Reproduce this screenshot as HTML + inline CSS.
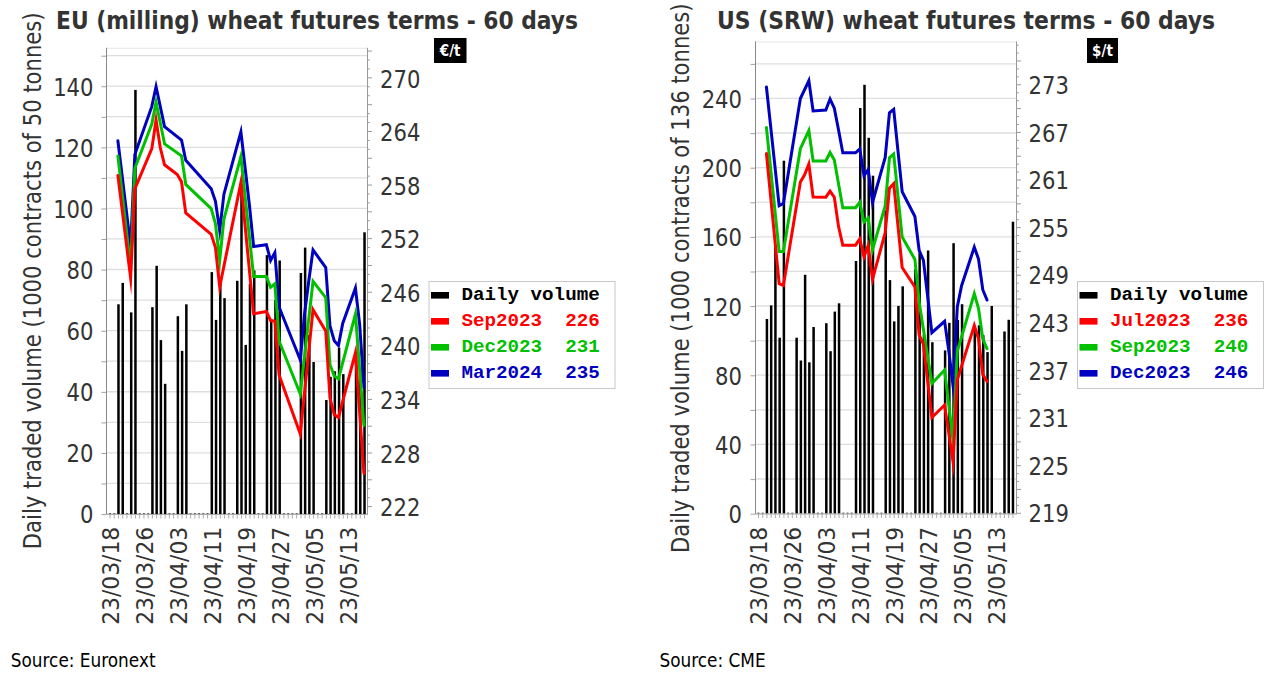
<!DOCTYPE html>
<html><head><meta charset="utf-8"><title>Wheat futures</title>
<style>html,body{margin:0;padding:0;background:#fff;} svg{display:block}</style></head>
<body><svg width="1271" height="673" viewBox="0 0 1271 673" font-family="'DejaVu Sans Condensed','DejaVu Sans','Liberation Sans',sans-serif">
<rect width="1271" height="673" fill="#fff"/>
<line x1="106" y1="48.3" x2="367" y2="48.3" stroke="#e6e6e6" stroke-width="1"/>
<line x1="107" y1="514.00" x2="367" y2="514.00" stroke="#dedede" stroke-width="1.3"/>
<line x1="107" y1="483.44" x2="367" y2="483.44" stroke="#dedede" stroke-width="1.3"/>
<line x1="107" y1="452.88" x2="367" y2="452.88" stroke="#dedede" stroke-width="1.3"/>
<line x1="107" y1="422.32" x2="367" y2="422.32" stroke="#dedede" stroke-width="1.3"/>
<line x1="107" y1="391.76" x2="367" y2="391.76" stroke="#dedede" stroke-width="1.3"/>
<line x1="107" y1="361.20" x2="367" y2="361.20" stroke="#dedede" stroke-width="1.3"/>
<line x1="107" y1="330.64" x2="367" y2="330.64" stroke="#dedede" stroke-width="1.3"/>
<line x1="107" y1="300.08" x2="367" y2="300.08" stroke="#dedede" stroke-width="1.3"/>
<line x1="107" y1="269.52" x2="367" y2="269.52" stroke="#dedede" stroke-width="1.3"/>
<line x1="107" y1="238.96" x2="367" y2="238.96" stroke="#dedede" stroke-width="1.3"/>
<line x1="107" y1="208.40" x2="367" y2="208.40" stroke="#dedede" stroke-width="1.3"/>
<line x1="107" y1="177.84" x2="367" y2="177.84" stroke="#dedede" stroke-width="1.3"/>
<line x1="107" y1="147.28" x2="367" y2="147.28" stroke="#dedede" stroke-width="1.3"/>
<line x1="107" y1="116.72" x2="367" y2="116.72" stroke="#dedede" stroke-width="1.3"/>
<line x1="107" y1="86.16" x2="367" y2="86.16" stroke="#dedede" stroke-width="1.3"/>
<line x1="107" y1="55.60" x2="367" y2="55.60" stroke="#dedede" stroke-width="1.3"/>
<line x1="101.5" y1="514.60" x2="106" y2="514.60" stroke="#a0a0a0" stroke-width="1"/>
<line x1="101.5" y1="484.04" x2="106" y2="484.04" stroke="#a0a0a0" stroke-width="1"/>
<line x1="101.5" y1="453.48" x2="106" y2="453.48" stroke="#a0a0a0" stroke-width="1"/>
<line x1="101.5" y1="422.92" x2="106" y2="422.92" stroke="#a0a0a0" stroke-width="1"/>
<line x1="101.5" y1="392.36" x2="106" y2="392.36" stroke="#a0a0a0" stroke-width="1"/>
<line x1="101.5" y1="361.80" x2="106" y2="361.80" stroke="#a0a0a0" stroke-width="1"/>
<line x1="101.5" y1="331.24" x2="106" y2="331.24" stroke="#a0a0a0" stroke-width="1"/>
<line x1="101.5" y1="300.68" x2="106" y2="300.68" stroke="#a0a0a0" stroke-width="1"/>
<line x1="101.5" y1="270.12" x2="106" y2="270.12" stroke="#a0a0a0" stroke-width="1"/>
<line x1="101.5" y1="239.56" x2="106" y2="239.56" stroke="#a0a0a0" stroke-width="1"/>
<line x1="101.5" y1="209.00" x2="106" y2="209.00" stroke="#a0a0a0" stroke-width="1"/>
<line x1="101.5" y1="178.44" x2="106" y2="178.44" stroke="#a0a0a0" stroke-width="1"/>
<line x1="101.5" y1="147.88" x2="106" y2="147.88" stroke="#a0a0a0" stroke-width="1"/>
<line x1="101.5" y1="117.32" x2="106" y2="117.32" stroke="#a0a0a0" stroke-width="1"/>
<line x1="101.5" y1="86.76" x2="106" y2="86.76" stroke="#a0a0a0" stroke-width="1"/>
<line x1="101.5" y1="56.20" x2="106" y2="56.20" stroke="#a0a0a0" stroke-width="1"/>
<line x1="110.00" y1="514" x2="110.00" y2="518.5" stroke="#999" stroke-width="0.8"/>
<line x1="114.24" y1="514" x2="114.24" y2="518.5" stroke="#999" stroke-width="0.8"/>
<line x1="118.48" y1="514" x2="118.48" y2="518.5" stroke="#999" stroke-width="0.8"/>
<line x1="122.73" y1="514" x2="122.73" y2="518.5" stroke="#999" stroke-width="0.8"/>
<line x1="126.97" y1="514" x2="126.97" y2="518.5" stroke="#999" stroke-width="0.8"/>
<line x1="131.21" y1="514" x2="131.21" y2="518.5" stroke="#999" stroke-width="0.8"/>
<line x1="135.45" y1="514" x2="135.45" y2="518.5" stroke="#999" stroke-width="0.8"/>
<line x1="139.69" y1="514" x2="139.69" y2="518.5" stroke="#999" stroke-width="0.8"/>
<line x1="143.94" y1="514" x2="143.94" y2="518.5" stroke="#999" stroke-width="0.8"/>
<line x1="148.18" y1="514" x2="148.18" y2="518.5" stroke="#999" stroke-width="0.8"/>
<line x1="152.42" y1="514" x2="152.42" y2="518.5" stroke="#999" stroke-width="0.8"/>
<line x1="156.66" y1="514" x2="156.66" y2="518.5" stroke="#999" stroke-width="0.8"/>
<line x1="160.90" y1="514" x2="160.90" y2="518.5" stroke="#999" stroke-width="0.8"/>
<line x1="165.15" y1="514" x2="165.15" y2="518.5" stroke="#999" stroke-width="0.8"/>
<line x1="169.39" y1="514" x2="169.39" y2="518.5" stroke="#999" stroke-width="0.8"/>
<line x1="173.63" y1="514" x2="173.63" y2="518.5" stroke="#999" stroke-width="0.8"/>
<line x1="177.87" y1="514" x2="177.87" y2="518.5" stroke="#999" stroke-width="0.8"/>
<line x1="182.11" y1="514" x2="182.11" y2="518.5" stroke="#999" stroke-width="0.8"/>
<line x1="186.36" y1="514" x2="186.36" y2="518.5" stroke="#999" stroke-width="0.8"/>
<line x1="190.60" y1="514" x2="190.60" y2="518.5" stroke="#999" stroke-width="0.8"/>
<line x1="194.84" y1="514" x2="194.84" y2="518.5" stroke="#999" stroke-width="0.8"/>
<line x1="199.08" y1="514" x2="199.08" y2="518.5" stroke="#999" stroke-width="0.8"/>
<line x1="203.32" y1="514" x2="203.32" y2="518.5" stroke="#999" stroke-width="0.8"/>
<line x1="207.57" y1="514" x2="207.57" y2="518.5" stroke="#999" stroke-width="0.8"/>
<line x1="211.81" y1="514" x2="211.81" y2="518.5" stroke="#999" stroke-width="0.8"/>
<line x1="216.05" y1="514" x2="216.05" y2="518.5" stroke="#999" stroke-width="0.8"/>
<line x1="220.29" y1="514" x2="220.29" y2="518.5" stroke="#999" stroke-width="0.8"/>
<line x1="224.53" y1="514" x2="224.53" y2="518.5" stroke="#999" stroke-width="0.8"/>
<line x1="228.78" y1="514" x2="228.78" y2="518.5" stroke="#999" stroke-width="0.8"/>
<line x1="233.02" y1="514" x2="233.02" y2="518.5" stroke="#999" stroke-width="0.8"/>
<line x1="237.26" y1="514" x2="237.26" y2="518.5" stroke="#999" stroke-width="0.8"/>
<line x1="241.50" y1="514" x2="241.50" y2="518.5" stroke="#999" stroke-width="0.8"/>
<line x1="245.74" y1="514" x2="245.74" y2="518.5" stroke="#999" stroke-width="0.8"/>
<line x1="249.99" y1="514" x2="249.99" y2="518.5" stroke="#999" stroke-width="0.8"/>
<line x1="254.23" y1="514" x2="254.23" y2="518.5" stroke="#999" stroke-width="0.8"/>
<line x1="258.47" y1="514" x2="258.47" y2="518.5" stroke="#999" stroke-width="0.8"/>
<line x1="262.71" y1="514" x2="262.71" y2="518.5" stroke="#999" stroke-width="0.8"/>
<line x1="266.95" y1="514" x2="266.95" y2="518.5" stroke="#999" stroke-width="0.8"/>
<line x1="271.20" y1="514" x2="271.20" y2="518.5" stroke="#999" stroke-width="0.8"/>
<line x1="275.44" y1="514" x2="275.44" y2="518.5" stroke="#999" stroke-width="0.8"/>
<line x1="279.68" y1="514" x2="279.68" y2="518.5" stroke="#999" stroke-width="0.8"/>
<line x1="283.92" y1="514" x2="283.92" y2="518.5" stroke="#999" stroke-width="0.8"/>
<line x1="288.16" y1="514" x2="288.16" y2="518.5" stroke="#999" stroke-width="0.8"/>
<line x1="292.41" y1="514" x2="292.41" y2="518.5" stroke="#999" stroke-width="0.8"/>
<line x1="296.65" y1="514" x2="296.65" y2="518.5" stroke="#999" stroke-width="0.8"/>
<line x1="300.89" y1="514" x2="300.89" y2="518.5" stroke="#999" stroke-width="0.8"/>
<line x1="305.13" y1="514" x2="305.13" y2="518.5" stroke="#999" stroke-width="0.8"/>
<line x1="309.37" y1="514" x2="309.37" y2="518.5" stroke="#999" stroke-width="0.8"/>
<line x1="313.62" y1="514" x2="313.62" y2="518.5" stroke="#999" stroke-width="0.8"/>
<line x1="317.86" y1="514" x2="317.86" y2="518.5" stroke="#999" stroke-width="0.8"/>
<line x1="322.10" y1="514" x2="322.10" y2="518.5" stroke="#999" stroke-width="0.8"/>
<line x1="326.34" y1="514" x2="326.34" y2="518.5" stroke="#999" stroke-width="0.8"/>
<line x1="330.58" y1="514" x2="330.58" y2="518.5" stroke="#999" stroke-width="0.8"/>
<line x1="334.83" y1="514" x2="334.83" y2="518.5" stroke="#999" stroke-width="0.8"/>
<line x1="339.07" y1="514" x2="339.07" y2="518.5" stroke="#999" stroke-width="0.8"/>
<line x1="343.31" y1="514" x2="343.31" y2="518.5" stroke="#999" stroke-width="0.8"/>
<line x1="347.55" y1="514" x2="347.55" y2="518.5" stroke="#999" stroke-width="0.8"/>
<line x1="351.79" y1="514" x2="351.79" y2="518.5" stroke="#999" stroke-width="0.8"/>
<line x1="356.04" y1="514" x2="356.04" y2="518.5" stroke="#999" stroke-width="0.8"/>
<line x1="360.28" y1="514" x2="360.28" y2="518.5" stroke="#999" stroke-width="0.8"/>
<line x1="364.52" y1="514" x2="364.52" y2="518.5" stroke="#999" stroke-width="0.8"/>
<line x1="367" y1="506.60" x2="372" y2="506.60" stroke="#999" stroke-width="1"/>
<line x1="367" y1="497.67" x2="369.8" y2="497.67" stroke="#999" stroke-width="1"/>
<line x1="367" y1="488.74" x2="369.8" y2="488.74" stroke="#999" stroke-width="1"/>
<line x1="367" y1="479.80" x2="372" y2="479.80" stroke="#999" stroke-width="1"/>
<line x1="367" y1="470.87" x2="369.8" y2="470.87" stroke="#999" stroke-width="1"/>
<line x1="367" y1="461.94" x2="369.8" y2="461.94" stroke="#999" stroke-width="1"/>
<line x1="367" y1="453.01" x2="372" y2="453.01" stroke="#999" stroke-width="1"/>
<line x1="367" y1="444.08" x2="369.8" y2="444.08" stroke="#999" stroke-width="1"/>
<line x1="367" y1="435.14" x2="369.8" y2="435.14" stroke="#999" stroke-width="1"/>
<line x1="367" y1="426.21" x2="372" y2="426.21" stroke="#999" stroke-width="1"/>
<line x1="367" y1="417.28" x2="369.8" y2="417.28" stroke="#999" stroke-width="1"/>
<line x1="367" y1="408.35" x2="369.8" y2="408.35" stroke="#999" stroke-width="1"/>
<line x1="367" y1="399.42" x2="372" y2="399.42" stroke="#999" stroke-width="1"/>
<line x1="367" y1="390.48" x2="369.8" y2="390.48" stroke="#999" stroke-width="1"/>
<line x1="367" y1="381.55" x2="369.8" y2="381.55" stroke="#999" stroke-width="1"/>
<line x1="367" y1="372.62" x2="372" y2="372.62" stroke="#999" stroke-width="1"/>
<line x1="367" y1="363.69" x2="369.8" y2="363.69" stroke="#999" stroke-width="1"/>
<line x1="367" y1="354.76" x2="369.8" y2="354.76" stroke="#999" stroke-width="1"/>
<line x1="367" y1="345.82" x2="372" y2="345.82" stroke="#999" stroke-width="1"/>
<line x1="367" y1="336.89" x2="369.8" y2="336.89" stroke="#999" stroke-width="1"/>
<line x1="367" y1="327.96" x2="369.8" y2="327.96" stroke="#999" stroke-width="1"/>
<line x1="367" y1="319.03" x2="372" y2="319.03" stroke="#999" stroke-width="1"/>
<line x1="367" y1="310.10" x2="369.8" y2="310.10" stroke="#999" stroke-width="1"/>
<line x1="367" y1="301.16" x2="369.8" y2="301.16" stroke="#999" stroke-width="1"/>
<line x1="367" y1="292.23" x2="372" y2="292.23" stroke="#999" stroke-width="1"/>
<line x1="367" y1="283.30" x2="369.8" y2="283.30" stroke="#999" stroke-width="1"/>
<line x1="367" y1="274.37" x2="369.8" y2="274.37" stroke="#999" stroke-width="1"/>
<line x1="367" y1="265.44" x2="372" y2="265.44" stroke="#999" stroke-width="1"/>
<line x1="367" y1="256.50" x2="369.8" y2="256.50" stroke="#999" stroke-width="1"/>
<line x1="367" y1="247.57" x2="369.8" y2="247.57" stroke="#999" stroke-width="1"/>
<line x1="367" y1="238.64" x2="372" y2="238.64" stroke="#999" stroke-width="1"/>
<line x1="367" y1="229.71" x2="369.8" y2="229.71" stroke="#999" stroke-width="1"/>
<line x1="367" y1="220.78" x2="369.8" y2="220.78" stroke="#999" stroke-width="1"/>
<line x1="367" y1="211.84" x2="372" y2="211.84" stroke="#999" stroke-width="1"/>
<line x1="367" y1="202.91" x2="369.8" y2="202.91" stroke="#999" stroke-width="1"/>
<line x1="367" y1="193.98" x2="369.8" y2="193.98" stroke="#999" stroke-width="1"/>
<line x1="367" y1="185.05" x2="372" y2="185.05" stroke="#999" stroke-width="1"/>
<line x1="367" y1="176.12" x2="369.8" y2="176.12" stroke="#999" stroke-width="1"/>
<line x1="367" y1="167.18" x2="369.8" y2="167.18" stroke="#999" stroke-width="1"/>
<line x1="367" y1="158.25" x2="372" y2="158.25" stroke="#999" stroke-width="1"/>
<line x1="367" y1="149.32" x2="369.8" y2="149.32" stroke="#999" stroke-width="1"/>
<line x1="367" y1="140.39" x2="369.8" y2="140.39" stroke="#999" stroke-width="1"/>
<line x1="367" y1="131.46" x2="372" y2="131.46" stroke="#999" stroke-width="1"/>
<line x1="367" y1="122.52" x2="369.8" y2="122.52" stroke="#999" stroke-width="1"/>
<line x1="367" y1="113.59" x2="369.8" y2="113.59" stroke="#999" stroke-width="1"/>
<line x1="367" y1="104.66" x2="372" y2="104.66" stroke="#999" stroke-width="1"/>
<line x1="367" y1="95.73" x2="369.8" y2="95.73" stroke="#999" stroke-width="1"/>
<line x1="367" y1="86.80" x2="369.8" y2="86.80" stroke="#999" stroke-width="1"/>
<line x1="367" y1="77.86" x2="372" y2="77.86" stroke="#999" stroke-width="1"/>
<line x1="367" y1="68.93" x2="369.8" y2="68.93" stroke="#999" stroke-width="1"/>
<line x1="367" y1="60.00" x2="369.8" y2="60.00" stroke="#999" stroke-width="1"/>
<line x1="367" y1="51.07" x2="372" y2="51.07" stroke="#999" stroke-width="1"/>
<rect x="109.00" y="513.1" width="2.0" height="1.1" fill="#555"/>
<rect x="113.24" y="513.1" width="2.0" height="1.1" fill="#555"/>
<rect x="125.97" y="513.1" width="2.0" height="1.1" fill="#555"/>
<rect x="138.69" y="513.1" width="2.0" height="1.1" fill="#555"/>
<rect x="142.94" y="513.1" width="2.0" height="1.1" fill="#555"/>
<rect x="147.18" y="513.1" width="2.0" height="1.1" fill="#555"/>
<rect x="168.39" y="513.1" width="2.0" height="1.1" fill="#555"/>
<rect x="172.63" y="513.1" width="2.0" height="1.1" fill="#555"/>
<rect x="189.60" y="513.1" width="2.0" height="1.1" fill="#555"/>
<rect x="193.84" y="513.1" width="2.0" height="1.1" fill="#555"/>
<rect x="198.08" y="513.1" width="2.0" height="1.1" fill="#555"/>
<rect x="202.32" y="513.1" width="2.0" height="1.1" fill="#555"/>
<rect x="206.57" y="513.1" width="2.0" height="1.1" fill="#555"/>
<rect x="227.78" y="513.1" width="2.0" height="1.1" fill="#555"/>
<rect x="232.02" y="513.1" width="2.0" height="1.1" fill="#555"/>
<rect x="257.47" y="513.1" width="2.0" height="1.1" fill="#555"/>
<rect x="261.71" y="513.1" width="2.0" height="1.1" fill="#555"/>
<rect x="282.92" y="513.1" width="2.0" height="1.1" fill="#555"/>
<rect x="287.16" y="513.1" width="2.0" height="1.1" fill="#555"/>
<rect x="291.41" y="513.1" width="2.0" height="1.1" fill="#555"/>
<rect x="295.65" y="513.1" width="2.0" height="1.1" fill="#555"/>
<rect x="316.86" y="513.1" width="2.0" height="1.1" fill="#555"/>
<rect x="321.10" y="513.1" width="2.0" height="1.1" fill="#555"/>
<rect x="346.55" y="513.1" width="2.0" height="1.1" fill="#555"/>
<rect x="350.79" y="513.1" width="2.0" height="1.1" fill="#555"/>
<rect x="117.23" y="304.3" width="2.5" height="209.7" fill="#000"/>
<rect x="121.48" y="282.9" width="2.5" height="231.1" fill="#000"/>
<rect x="129.96" y="312.4" width="2.5" height="201.6" fill="#000"/>
<rect x="134.20" y="89.9" width="2.5" height="424.1" fill="#000"/>
<rect x="151.17" y="307.2" width="2.5" height="206.8" fill="#000"/>
<rect x="155.41" y="265.8" width="2.5" height="248.2" fill="#000"/>
<rect x="159.65" y="340.1" width="2.5" height="173.9" fill="#000"/>
<rect x="163.90" y="383.8" width="2.5" height="130.2" fill="#000"/>
<rect x="176.62" y="316.2" width="2.5" height="197.8" fill="#000"/>
<rect x="180.86" y="350.9" width="2.5" height="163.1" fill="#000"/>
<rect x="185.11" y="304.3" width="2.5" height="209.7" fill="#000"/>
<rect x="210.56" y="272.1" width="2.5" height="241.9" fill="#000"/>
<rect x="214.80" y="319.9" width="2.5" height="194.1" fill="#000"/>
<rect x="219.04" y="283.3" width="2.5" height="230.7" fill="#000"/>
<rect x="223.28" y="298.1" width="2.5" height="215.9" fill="#000"/>
<rect x="236.01" y="280.8" width="2.5" height="233.2" fill="#000"/>
<rect x="240.25" y="184.3" width="2.5" height="329.7" fill="#000"/>
<rect x="244.49" y="344.9" width="2.5" height="169.1" fill="#000"/>
<rect x="248.74" y="284.0" width="2.5" height="230.0" fill="#000"/>
<rect x="252.98" y="270.4" width="2.5" height="243.6" fill="#000"/>
<rect x="265.70" y="255.1" width="2.5" height="258.9" fill="#000"/>
<rect x="269.95" y="321.4" width="2.5" height="192.6" fill="#000"/>
<rect x="274.19" y="300.0" width="2.5" height="214.0" fill="#000"/>
<rect x="278.43" y="260.5" width="2.5" height="253.5" fill="#000"/>
<rect x="299.64" y="273.0" width="2.5" height="241.0" fill="#000"/>
<rect x="303.88" y="247.6" width="2.5" height="266.4" fill="#000"/>
<rect x="308.12" y="335.0" width="2.5" height="179.0" fill="#000"/>
<rect x="312.37" y="362.0" width="2.5" height="152.0" fill="#000"/>
<rect x="325.09" y="400.0" width="2.5" height="114.0" fill="#000"/>
<rect x="329.33" y="376.8" width="2.5" height="137.2" fill="#000"/>
<rect x="333.58" y="371.3" width="2.5" height="142.7" fill="#000"/>
<rect x="337.82" y="347.8" width="2.5" height="166.2" fill="#000"/>
<rect x="342.06" y="374.1" width="2.5" height="139.9" fill="#000"/>
<rect x="354.79" y="352.0" width="2.5" height="162.0" fill="#000"/>
<rect x="359.03" y="368.0" width="2.5" height="146.0" fill="#000"/>
<rect x="363.27" y="232.3" width="2.5" height="281.7" fill="#000"/>
<polyline points="117.88,140.70 130.61,246.00 134.85,154.50 151.82,106.40 156.06,86.75 164.55,126.60 181.51,140.00 185.76,160.30 211.21,188.80 215.45,201.30 219.69,230.50 223.93,194.20 240.90,131.95 245.14,168.00 249.39,205.00 253.63,246.50 266.35,244.70 270.60,260.50 274.84,252.60 279.08,307.00 300.29,360.00 304.53,314.00 308.77,281.00 313.02,249.91 325.74,267.50 329.98,326.00 334.23,340.70 338.47,345.40 342.71,323.40 355.44,288.03 359.68,324.70 363.92,387.30" fill="none" stroke="#0000c0" stroke-width="3" stroke-linejoin="miter" stroke-miterlimit="30" stroke-linecap="round"/>
<polyline points="117.88,155.90 130.61,268.00 134.85,168.30 151.82,124.10 156.06,102.28 164.55,143.90 181.51,155.80 185.76,184.40 211.21,208.60 215.45,223.80 219.69,260.50 223.93,219.00 240.90,156.69 253.63,276.60 266.35,276.60 270.60,287.30 274.84,283.80 279.08,341.00 300.29,394.00 313.02,281.33 325.74,297.70 329.98,364.80 334.23,376.10 338.47,378.80 355.44,314.03 363.92,425.40" fill="none" stroke="#00c000" stroke-width="3" stroke-linejoin="miter" stroke-miterlimit="30" stroke-linecap="round"/>
<polyline points="117.88,175.40 130.61,278.00 134.85,188.80 151.82,148.70 156.06,120.07 160.30,147.80 164.55,164.80 177.27,174.60 181.51,181.70 185.76,212.90 211.21,234.30 215.45,247.50 219.69,287.00 240.90,182.53 253.63,313.80 266.35,311.50 270.60,320.50 274.84,321.00 279.08,374.90 300.29,434.00 313.02,309.66 325.74,331.00 329.98,398.00 334.23,414.60 338.47,417.50 355.44,352.70 363.92,473.50" fill="none" stroke="#ff0000" stroke-width="3" stroke-linejoin="miter" stroke-miterlimit="30" stroke-linecap="round"/>
<line x1="106.5" y1="47.8" x2="106.5" y2="514.5" stroke="#888" stroke-width="1"/>
<line x1="367.5" y1="47.8" x2="367.5" y2="514.5" stroke="#999" stroke-width="1"/>
<line x1="106" y1="514.5" x2="368" y2="514.5" stroke="#aaa" stroke-width="1"/>
<text x="93.5" y="523.4" text-anchor="end" font-size="24.5" fill="#333" textLength="13.45" lengthAdjust="spacingAndGlyphs">0</text>
<text x="93.5" y="462.3" text-anchor="end" font-size="24.5" fill="#333" textLength="26.90" lengthAdjust="spacingAndGlyphs">20</text>
<text x="93.5" y="401.2" text-anchor="end" font-size="24.5" fill="#333" textLength="26.90" lengthAdjust="spacingAndGlyphs">40</text>
<text x="93.5" y="340.0" text-anchor="end" font-size="24.5" fill="#333" textLength="26.90" lengthAdjust="spacingAndGlyphs">60</text>
<text x="93.5" y="278.9" text-anchor="end" font-size="24.5" fill="#333" textLength="26.90" lengthAdjust="spacingAndGlyphs">80</text>
<text x="93.5" y="217.8" text-anchor="end" font-size="24.5" fill="#333" textLength="40.35" lengthAdjust="spacingAndGlyphs">100</text>
<text x="93.5" y="156.7" text-anchor="end" font-size="24.5" fill="#333" textLength="40.35" lengthAdjust="spacingAndGlyphs">120</text>
<text x="93.5" y="95.6" text-anchor="end" font-size="24.5" fill="#333" textLength="40.35" lengthAdjust="spacingAndGlyphs">140</text>
<text x="380" y="516.2" font-size="24.5" fill="#333" textLength="40.35" lengthAdjust="spacingAndGlyphs">222</text>
<text x="380" y="462.6" font-size="24.5" fill="#333" textLength="40.35" lengthAdjust="spacingAndGlyphs">228</text>
<text x="380" y="409.0" font-size="24.5" fill="#333" textLength="40.35" lengthAdjust="spacingAndGlyphs">234</text>
<text x="380" y="355.4" font-size="24.5" fill="#333" textLength="40.35" lengthAdjust="spacingAndGlyphs">240</text>
<text x="380" y="301.8" font-size="24.5" fill="#333" textLength="40.35" lengthAdjust="spacingAndGlyphs">246</text>
<text x="380" y="248.2" font-size="24.5" fill="#333" textLength="40.35" lengthAdjust="spacingAndGlyphs">252</text>
<text x="380" y="194.6" font-size="24.5" fill="#333" textLength="40.35" lengthAdjust="spacingAndGlyphs">258</text>
<text x="380" y="141.1" font-size="24.5" fill="#333" textLength="40.35" lengthAdjust="spacingAndGlyphs">264</text>
<text x="380" y="87.5" font-size="24.5" fill="#333" textLength="40.35" lengthAdjust="spacingAndGlyphs">270</text>
<text transform="translate(119.40,526.8) rotate(-90)" x="0" y="0" text-anchor="end" font-size="23.5" fill="#333" textLength="98" lengthAdjust="spacingAndGlyphs">23/03/18</text>
<text transform="translate(153.34,526.8) rotate(-90)" x="0" y="0" text-anchor="end" font-size="23.5" fill="#333" textLength="98" lengthAdjust="spacingAndGlyphs">23/03/26</text>
<text transform="translate(187.27,526.8) rotate(-90)" x="0" y="0" text-anchor="end" font-size="23.5" fill="#333" textLength="98" lengthAdjust="spacingAndGlyphs">23/04/03</text>
<text transform="translate(221.21,526.8) rotate(-90)" x="0" y="0" text-anchor="end" font-size="23.5" fill="#333" textLength="98" lengthAdjust="spacingAndGlyphs">23/04/11</text>
<text transform="translate(255.14,526.8) rotate(-90)" x="0" y="0" text-anchor="end" font-size="23.5" fill="#333" textLength="98" lengthAdjust="spacingAndGlyphs">23/04/19</text>
<text transform="translate(289.08,526.8) rotate(-90)" x="0" y="0" text-anchor="end" font-size="23.5" fill="#333" textLength="98" lengthAdjust="spacingAndGlyphs">23/04/27</text>
<text transform="translate(323.02,526.8) rotate(-90)" x="0" y="0" text-anchor="end" font-size="23.5" fill="#333" textLength="98" lengthAdjust="spacingAndGlyphs">23/05/05</text>
<text transform="translate(356.95,526.8) rotate(-90)" x="0" y="0" text-anchor="end" font-size="23.5" fill="#333" textLength="98" lengthAdjust="spacingAndGlyphs">23/05/13</text>
<text transform="translate(40.5,549.2) rotate(-90)" x="0" y="0" font-size="24.5" fill="#333" textLength="536.8" lengthAdjust="spacingAndGlyphs">Daily traded volume (1000 contracts of 50 tonnes)</text>
<text x="56" y="29" font-size="24.3" font-weight="bold" fill="#333" textLength="522" lengthAdjust="spacingAndGlyphs">EU (milling) wheat futures terms - 60 days</text>
<rect x="434" y="38" width="32.5" height="25" fill="#000"/>
<text x="450.2" y="55.5" text-anchor="middle" font-size="15" font-weight="bold" fill="#fff">€/t</text>
<rect x="429.0" y="281.5" width="186" height="107" fill="#fff" stroke="#c8c8c8" stroke-width="1"/>
<rect x="431.0" y="292.0" width="18" height="6.6" fill="#000"/>
<text x="461.5" y="299.9" font-family="'Liberation Mono','DejaVu Sans Mono',monospace" font-weight="bold" font-size="19.2" fill="#000" xml:space="preserve">Daily volume</text>
<rect x="431.0" y="318.0" width="18" height="6.6" fill="#ff0000"/>
<text x="461.5" y="325.9" font-family="'Liberation Mono','DejaVu Sans Mono',monospace" font-weight="bold" font-size="19.2" fill="#ff0000" xml:space="preserve">Sep2023  226</text>
<rect x="431.0" y="344.0" width="18" height="6.6" fill="#00c000"/>
<text x="461.5" y="351.9" font-family="'Liberation Mono','DejaVu Sans Mono',monospace" font-weight="bold" font-size="19.2" fill="#00c000" xml:space="preserve">Dec2023  231</text>
<rect x="431.0" y="370.0" width="18" height="6.6" fill="#0000c0"/>
<text x="461.5" y="377.9" font-family="'Liberation Mono','DejaVu Sans Mono',monospace" font-weight="bold" font-size="19.2" fill="#0000c0" xml:space="preserve">Mar2024  235</text>
<text x="10.8" y="666.5" font-size="18.8" fill="#000">Source: Euronext</text>
<line x1="755" y1="41.9" x2="1016" y2="41.9" stroke="#e6e6e6" stroke-width="1"/>
<line x1="756" y1="513.60" x2="1016" y2="513.60" stroke="#dedede" stroke-width="1.3"/>
<line x1="756" y1="479.00" x2="1016" y2="479.00" stroke="#dedede" stroke-width="1.3"/>
<line x1="756" y1="444.40" x2="1016" y2="444.40" stroke="#dedede" stroke-width="1.3"/>
<line x1="756" y1="409.80" x2="1016" y2="409.80" stroke="#dedede" stroke-width="1.3"/>
<line x1="756" y1="375.20" x2="1016" y2="375.20" stroke="#dedede" stroke-width="1.3"/>
<line x1="756" y1="340.60" x2="1016" y2="340.60" stroke="#dedede" stroke-width="1.3"/>
<line x1="756" y1="306.00" x2="1016" y2="306.00" stroke="#dedede" stroke-width="1.3"/>
<line x1="756" y1="271.40" x2="1016" y2="271.40" stroke="#dedede" stroke-width="1.3"/>
<line x1="756" y1="236.80" x2="1016" y2="236.80" stroke="#dedede" stroke-width="1.3"/>
<line x1="756" y1="202.20" x2="1016" y2="202.20" stroke="#dedede" stroke-width="1.3"/>
<line x1="756" y1="167.60" x2="1016" y2="167.60" stroke="#dedede" stroke-width="1.3"/>
<line x1="756" y1="133.00" x2="1016" y2="133.00" stroke="#dedede" stroke-width="1.3"/>
<line x1="756" y1="98.40" x2="1016" y2="98.40" stroke="#dedede" stroke-width="1.3"/>
<line x1="756" y1="63.80" x2="1016" y2="63.80" stroke="#dedede" stroke-width="1.3"/>
<line x1="750.5" y1="514.20" x2="755" y2="514.20" stroke="#a0a0a0" stroke-width="1"/>
<line x1="750.5" y1="479.60" x2="755" y2="479.60" stroke="#a0a0a0" stroke-width="1"/>
<line x1="750.5" y1="445.00" x2="755" y2="445.00" stroke="#a0a0a0" stroke-width="1"/>
<line x1="750.5" y1="410.40" x2="755" y2="410.40" stroke="#a0a0a0" stroke-width="1"/>
<line x1="750.5" y1="375.80" x2="755" y2="375.80" stroke="#a0a0a0" stroke-width="1"/>
<line x1="750.5" y1="341.20" x2="755" y2="341.20" stroke="#a0a0a0" stroke-width="1"/>
<line x1="750.5" y1="306.60" x2="755" y2="306.60" stroke="#a0a0a0" stroke-width="1"/>
<line x1="750.5" y1="272.00" x2="755" y2="272.00" stroke="#a0a0a0" stroke-width="1"/>
<line x1="750.5" y1="237.40" x2="755" y2="237.40" stroke="#a0a0a0" stroke-width="1"/>
<line x1="750.5" y1="202.80" x2="755" y2="202.80" stroke="#a0a0a0" stroke-width="1"/>
<line x1="750.5" y1="168.20" x2="755" y2="168.20" stroke="#a0a0a0" stroke-width="1"/>
<line x1="750.5" y1="133.60" x2="755" y2="133.60" stroke="#a0a0a0" stroke-width="1"/>
<line x1="750.5" y1="99.00" x2="755" y2="99.00" stroke="#a0a0a0" stroke-width="1"/>
<line x1="750.5" y1="64.40" x2="755" y2="64.40" stroke="#a0a0a0" stroke-width="1"/>
<line x1="758.45" y1="513.5" x2="758.45" y2="518.0" stroke="#999" stroke-width="0.8"/>
<line x1="762.69" y1="513.5" x2="762.69" y2="518.0" stroke="#999" stroke-width="0.8"/>
<line x1="766.93" y1="513.5" x2="766.93" y2="518.0" stroke="#999" stroke-width="0.8"/>
<line x1="771.18" y1="513.5" x2="771.18" y2="518.0" stroke="#999" stroke-width="0.8"/>
<line x1="775.42" y1="513.5" x2="775.42" y2="518.0" stroke="#999" stroke-width="0.8"/>
<line x1="779.66" y1="513.5" x2="779.66" y2="518.0" stroke="#999" stroke-width="0.8"/>
<line x1="783.90" y1="513.5" x2="783.90" y2="518.0" stroke="#999" stroke-width="0.8"/>
<line x1="788.14" y1="513.5" x2="788.14" y2="518.0" stroke="#999" stroke-width="0.8"/>
<line x1="792.39" y1="513.5" x2="792.39" y2="518.0" stroke="#999" stroke-width="0.8"/>
<line x1="796.63" y1="513.5" x2="796.63" y2="518.0" stroke="#999" stroke-width="0.8"/>
<line x1="800.87" y1="513.5" x2="800.87" y2="518.0" stroke="#999" stroke-width="0.8"/>
<line x1="805.11" y1="513.5" x2="805.11" y2="518.0" stroke="#999" stroke-width="0.8"/>
<line x1="809.35" y1="513.5" x2="809.35" y2="518.0" stroke="#999" stroke-width="0.8"/>
<line x1="813.60" y1="513.5" x2="813.60" y2="518.0" stroke="#999" stroke-width="0.8"/>
<line x1="817.84" y1="513.5" x2="817.84" y2="518.0" stroke="#999" stroke-width="0.8"/>
<line x1="822.08" y1="513.5" x2="822.08" y2="518.0" stroke="#999" stroke-width="0.8"/>
<line x1="826.32" y1="513.5" x2="826.32" y2="518.0" stroke="#999" stroke-width="0.8"/>
<line x1="830.56" y1="513.5" x2="830.56" y2="518.0" stroke="#999" stroke-width="0.8"/>
<line x1="834.81" y1="513.5" x2="834.81" y2="518.0" stroke="#999" stroke-width="0.8"/>
<line x1="839.05" y1="513.5" x2="839.05" y2="518.0" stroke="#999" stroke-width="0.8"/>
<line x1="843.29" y1="513.5" x2="843.29" y2="518.0" stroke="#999" stroke-width="0.8"/>
<line x1="847.53" y1="513.5" x2="847.53" y2="518.0" stroke="#999" stroke-width="0.8"/>
<line x1="851.77" y1="513.5" x2="851.77" y2="518.0" stroke="#999" stroke-width="0.8"/>
<line x1="856.02" y1="513.5" x2="856.02" y2="518.0" stroke="#999" stroke-width="0.8"/>
<line x1="860.26" y1="513.5" x2="860.26" y2="518.0" stroke="#999" stroke-width="0.8"/>
<line x1="864.50" y1="513.5" x2="864.50" y2="518.0" stroke="#999" stroke-width="0.8"/>
<line x1="868.74" y1="513.5" x2="868.74" y2="518.0" stroke="#999" stroke-width="0.8"/>
<line x1="872.98" y1="513.5" x2="872.98" y2="518.0" stroke="#999" stroke-width="0.8"/>
<line x1="877.23" y1="513.5" x2="877.23" y2="518.0" stroke="#999" stroke-width="0.8"/>
<line x1="881.47" y1="513.5" x2="881.47" y2="518.0" stroke="#999" stroke-width="0.8"/>
<line x1="885.71" y1="513.5" x2="885.71" y2="518.0" stroke="#999" stroke-width="0.8"/>
<line x1="889.95" y1="513.5" x2="889.95" y2="518.0" stroke="#999" stroke-width="0.8"/>
<line x1="894.19" y1="513.5" x2="894.19" y2="518.0" stroke="#999" stroke-width="0.8"/>
<line x1="898.44" y1="513.5" x2="898.44" y2="518.0" stroke="#999" stroke-width="0.8"/>
<line x1="902.68" y1="513.5" x2="902.68" y2="518.0" stroke="#999" stroke-width="0.8"/>
<line x1="906.92" y1="513.5" x2="906.92" y2="518.0" stroke="#999" stroke-width="0.8"/>
<line x1="911.16" y1="513.5" x2="911.16" y2="518.0" stroke="#999" stroke-width="0.8"/>
<line x1="915.40" y1="513.5" x2="915.40" y2="518.0" stroke="#999" stroke-width="0.8"/>
<line x1="919.65" y1="513.5" x2="919.65" y2="518.0" stroke="#999" stroke-width="0.8"/>
<line x1="923.89" y1="513.5" x2="923.89" y2="518.0" stroke="#999" stroke-width="0.8"/>
<line x1="928.13" y1="513.5" x2="928.13" y2="518.0" stroke="#999" stroke-width="0.8"/>
<line x1="932.37" y1="513.5" x2="932.37" y2="518.0" stroke="#999" stroke-width="0.8"/>
<line x1="936.61" y1="513.5" x2="936.61" y2="518.0" stroke="#999" stroke-width="0.8"/>
<line x1="940.86" y1="513.5" x2="940.86" y2="518.0" stroke="#999" stroke-width="0.8"/>
<line x1="945.10" y1="513.5" x2="945.10" y2="518.0" stroke="#999" stroke-width="0.8"/>
<line x1="949.34" y1="513.5" x2="949.34" y2="518.0" stroke="#999" stroke-width="0.8"/>
<line x1="953.58" y1="513.5" x2="953.58" y2="518.0" stroke="#999" stroke-width="0.8"/>
<line x1="957.82" y1="513.5" x2="957.82" y2="518.0" stroke="#999" stroke-width="0.8"/>
<line x1="962.07" y1="513.5" x2="962.07" y2="518.0" stroke="#999" stroke-width="0.8"/>
<line x1="966.31" y1="513.5" x2="966.31" y2="518.0" stroke="#999" stroke-width="0.8"/>
<line x1="970.55" y1="513.5" x2="970.55" y2="518.0" stroke="#999" stroke-width="0.8"/>
<line x1="974.79" y1="513.5" x2="974.79" y2="518.0" stroke="#999" stroke-width="0.8"/>
<line x1="979.03" y1="513.5" x2="979.03" y2="518.0" stroke="#999" stroke-width="0.8"/>
<line x1="983.28" y1="513.5" x2="983.28" y2="518.0" stroke="#999" stroke-width="0.8"/>
<line x1="987.52" y1="513.5" x2="987.52" y2="518.0" stroke="#999" stroke-width="0.8"/>
<line x1="991.76" y1="513.5" x2="991.76" y2="518.0" stroke="#999" stroke-width="0.8"/>
<line x1="996.00" y1="513.5" x2="996.00" y2="518.0" stroke="#999" stroke-width="0.8"/>
<line x1="1000.24" y1="513.5" x2="1000.24" y2="518.0" stroke="#999" stroke-width="0.8"/>
<line x1="1004.49" y1="513.5" x2="1004.49" y2="518.0" stroke="#999" stroke-width="0.8"/>
<line x1="1008.73" y1="513.5" x2="1008.73" y2="518.0" stroke="#999" stroke-width="0.8"/>
<line x1="1012.97" y1="513.5" x2="1012.97" y2="518.0" stroke="#999" stroke-width="0.8"/>
<line x1="1016" y1="513.30" x2="1021" y2="513.30" stroke="#999" stroke-width="1"/>
<line x1="1016" y1="505.36" x2="1018.8" y2="505.36" stroke="#999" stroke-width="1"/>
<line x1="1016" y1="497.43" x2="1018.8" y2="497.43" stroke="#999" stroke-width="1"/>
<line x1="1016" y1="489.49" x2="1021" y2="489.49" stroke="#999" stroke-width="1"/>
<line x1="1016" y1="481.56" x2="1018.8" y2="481.56" stroke="#999" stroke-width="1"/>
<line x1="1016" y1="473.62" x2="1018.8" y2="473.62" stroke="#999" stroke-width="1"/>
<line x1="1016" y1="465.69" x2="1021" y2="465.69" stroke="#999" stroke-width="1"/>
<line x1="1016" y1="457.75" x2="1018.8" y2="457.75" stroke="#999" stroke-width="1"/>
<line x1="1016" y1="449.82" x2="1018.8" y2="449.82" stroke="#999" stroke-width="1"/>
<line x1="1016" y1="441.88" x2="1021" y2="441.88" stroke="#999" stroke-width="1"/>
<line x1="1016" y1="433.95" x2="1018.8" y2="433.95" stroke="#999" stroke-width="1"/>
<line x1="1016" y1="426.01" x2="1018.8" y2="426.01" stroke="#999" stroke-width="1"/>
<line x1="1016" y1="418.08" x2="1021" y2="418.08" stroke="#999" stroke-width="1"/>
<line x1="1016" y1="410.14" x2="1018.8" y2="410.14" stroke="#999" stroke-width="1"/>
<line x1="1016" y1="402.21" x2="1018.8" y2="402.21" stroke="#999" stroke-width="1"/>
<line x1="1016" y1="394.27" x2="1021" y2="394.27" stroke="#999" stroke-width="1"/>
<line x1="1016" y1="386.34" x2="1018.8" y2="386.34" stroke="#999" stroke-width="1"/>
<line x1="1016" y1="378.40" x2="1018.8" y2="378.40" stroke="#999" stroke-width="1"/>
<line x1="1016" y1="370.47" x2="1021" y2="370.47" stroke="#999" stroke-width="1"/>
<line x1="1016" y1="362.53" x2="1018.8" y2="362.53" stroke="#999" stroke-width="1"/>
<line x1="1016" y1="354.60" x2="1018.8" y2="354.60" stroke="#999" stroke-width="1"/>
<line x1="1016" y1="346.66" x2="1021" y2="346.66" stroke="#999" stroke-width="1"/>
<line x1="1016" y1="338.73" x2="1018.8" y2="338.73" stroke="#999" stroke-width="1"/>
<line x1="1016" y1="330.79" x2="1018.8" y2="330.79" stroke="#999" stroke-width="1"/>
<line x1="1016" y1="322.86" x2="1021" y2="322.86" stroke="#999" stroke-width="1"/>
<line x1="1016" y1="314.92" x2="1018.8" y2="314.92" stroke="#999" stroke-width="1"/>
<line x1="1016" y1="306.99" x2="1018.8" y2="306.99" stroke="#999" stroke-width="1"/>
<line x1="1016" y1="299.05" x2="1021" y2="299.05" stroke="#999" stroke-width="1"/>
<line x1="1016" y1="291.12" x2="1018.8" y2="291.12" stroke="#999" stroke-width="1"/>
<line x1="1016" y1="283.18" x2="1018.8" y2="283.18" stroke="#999" stroke-width="1"/>
<line x1="1016" y1="275.25" x2="1021" y2="275.25" stroke="#999" stroke-width="1"/>
<line x1="1016" y1="267.31" x2="1018.8" y2="267.31" stroke="#999" stroke-width="1"/>
<line x1="1016" y1="259.38" x2="1018.8" y2="259.38" stroke="#999" stroke-width="1"/>
<line x1="1016" y1="251.44" x2="1021" y2="251.44" stroke="#999" stroke-width="1"/>
<line x1="1016" y1="243.51" x2="1018.8" y2="243.51" stroke="#999" stroke-width="1"/>
<line x1="1016" y1="235.57" x2="1018.8" y2="235.57" stroke="#999" stroke-width="1"/>
<line x1="1016" y1="227.64" x2="1021" y2="227.64" stroke="#999" stroke-width="1"/>
<line x1="1016" y1="219.70" x2="1018.8" y2="219.70" stroke="#999" stroke-width="1"/>
<line x1="1016" y1="211.77" x2="1018.8" y2="211.77" stroke="#999" stroke-width="1"/>
<line x1="1016" y1="203.83" x2="1021" y2="203.83" stroke="#999" stroke-width="1"/>
<line x1="1016" y1="195.90" x2="1018.8" y2="195.90" stroke="#999" stroke-width="1"/>
<line x1="1016" y1="187.96" x2="1018.8" y2="187.96" stroke="#999" stroke-width="1"/>
<line x1="1016" y1="180.03" x2="1021" y2="180.03" stroke="#999" stroke-width="1"/>
<line x1="1016" y1="172.09" x2="1018.8" y2="172.09" stroke="#999" stroke-width="1"/>
<line x1="1016" y1="164.16" x2="1018.8" y2="164.16" stroke="#999" stroke-width="1"/>
<line x1="1016" y1="156.22" x2="1021" y2="156.22" stroke="#999" stroke-width="1"/>
<line x1="1016" y1="148.29" x2="1018.8" y2="148.29" stroke="#999" stroke-width="1"/>
<line x1="1016" y1="140.35" x2="1018.8" y2="140.35" stroke="#999" stroke-width="1"/>
<line x1="1016" y1="132.42" x2="1021" y2="132.42" stroke="#999" stroke-width="1"/>
<line x1="1016" y1="124.48" x2="1018.8" y2="124.48" stroke="#999" stroke-width="1"/>
<line x1="1016" y1="116.55" x2="1018.8" y2="116.55" stroke="#999" stroke-width="1"/>
<line x1="1016" y1="108.61" x2="1021" y2="108.61" stroke="#999" stroke-width="1"/>
<line x1="1016" y1="100.68" x2="1018.8" y2="100.68" stroke="#999" stroke-width="1"/>
<line x1="1016" y1="92.74" x2="1018.8" y2="92.74" stroke="#999" stroke-width="1"/>
<line x1="1016" y1="84.81" x2="1021" y2="84.81" stroke="#999" stroke-width="1"/>
<line x1="1016" y1="76.88" x2="1018.8" y2="76.88" stroke="#999" stroke-width="1"/>
<line x1="1016" y1="68.94" x2="1018.8" y2="68.94" stroke="#999" stroke-width="1"/>
<line x1="1016" y1="61.00" x2="1021" y2="61.00" stroke="#999" stroke-width="1"/>
<line x1="1016" y1="53.07" x2="1018.8" y2="53.07" stroke="#999" stroke-width="1"/>
<line x1="1016" y1="45.13" x2="1018.8" y2="45.13" stroke="#999" stroke-width="1"/>
<rect x="757.45" y="512.6" width="2.0" height="1.1" fill="#555"/>
<rect x="761.69" y="512.6" width="2.0" height="1.1" fill="#555"/>
<rect x="787.14" y="512.6" width="2.0" height="1.1" fill="#555"/>
<rect x="791.39" y="512.6" width="2.0" height="1.1" fill="#555"/>
<rect x="816.84" y="512.6" width="2.0" height="1.1" fill="#555"/>
<rect x="821.08" y="512.6" width="2.0" height="1.1" fill="#555"/>
<rect x="842.29" y="512.6" width="2.0" height="1.1" fill="#555"/>
<rect x="846.53" y="512.6" width="2.0" height="1.1" fill="#555"/>
<rect x="850.77" y="512.6" width="2.0" height="1.1" fill="#555"/>
<rect x="876.23" y="512.6" width="2.0" height="1.1" fill="#555"/>
<rect x="880.47" y="512.6" width="2.0" height="1.1" fill="#555"/>
<rect x="905.92" y="512.6" width="2.0" height="1.1" fill="#555"/>
<rect x="910.16" y="512.6" width="2.0" height="1.1" fill="#555"/>
<rect x="935.61" y="512.6" width="2.0" height="1.1" fill="#555"/>
<rect x="939.86" y="512.6" width="2.0" height="1.1" fill="#555"/>
<rect x="965.31" y="512.6" width="2.0" height="1.1" fill="#555"/>
<rect x="969.55" y="512.6" width="2.0" height="1.1" fill="#555"/>
<rect x="995.00" y="512.6" width="2.0" height="1.1" fill="#555"/>
<rect x="999.24" y="512.6" width="2.0" height="1.1" fill="#555"/>
<rect x="765.68" y="319.0" width="2.5" height="194.5" fill="#000"/>
<rect x="769.93" y="305.4" width="2.5" height="208.1" fill="#000"/>
<rect x="774.17" y="245.0" width="2.5" height="268.5" fill="#000"/>
<rect x="778.41" y="337.7" width="2.5" height="175.8" fill="#000"/>
<rect x="782.65" y="160.7" width="2.5" height="352.8" fill="#000"/>
<rect x="795.38" y="337.7" width="2.5" height="175.8" fill="#000"/>
<rect x="799.62" y="360.5" width="2.5" height="153.0" fill="#000"/>
<rect x="803.86" y="274.8" width="2.5" height="238.7" fill="#000"/>
<rect x="808.10" y="362.3" width="2.5" height="151.2" fill="#000"/>
<rect x="812.35" y="327.0" width="2.5" height="186.5" fill="#000"/>
<rect x="825.07" y="323.2" width="2.5" height="190.3" fill="#000"/>
<rect x="829.31" y="351.2" width="2.5" height="162.3" fill="#000"/>
<rect x="833.56" y="311.6" width="2.5" height="201.9" fill="#000"/>
<rect x="837.80" y="303.3" width="2.5" height="210.2" fill="#000"/>
<rect x="854.77" y="261.0" width="2.5" height="252.5" fill="#000"/>
<rect x="859.01" y="108.0" width="2.5" height="405.5" fill="#000"/>
<rect x="863.25" y="84.8" width="2.5" height="428.7" fill="#000"/>
<rect x="867.49" y="137.8" width="2.5" height="375.7" fill="#000"/>
<rect x="871.73" y="175.7" width="2.5" height="337.8" fill="#000"/>
<rect x="884.46" y="210.4" width="2.5" height="303.1" fill="#000"/>
<rect x="888.70" y="280.1" width="2.5" height="233.4" fill="#000"/>
<rect x="892.94" y="321.4" width="2.5" height="192.1" fill="#000"/>
<rect x="897.19" y="305.9" width="2.5" height="207.6" fill="#000"/>
<rect x="901.43" y="286.3" width="2.5" height="227.2" fill="#000"/>
<rect x="914.15" y="269.2" width="2.5" height="244.3" fill="#000"/>
<rect x="918.40" y="252.5" width="2.5" height="261.0" fill="#000"/>
<rect x="922.64" y="335.0" width="2.5" height="178.5" fill="#000"/>
<rect x="926.88" y="250.5" width="2.5" height="263.0" fill="#000"/>
<rect x="931.12" y="342.2" width="2.5" height="171.3" fill="#000"/>
<rect x="943.85" y="350.4" width="2.5" height="163.1" fill="#000"/>
<rect x="948.09" y="322.8" width="2.5" height="190.7" fill="#000"/>
<rect x="952.33" y="243.2" width="2.5" height="270.3" fill="#000"/>
<rect x="956.57" y="320.0" width="2.5" height="193.5" fill="#000"/>
<rect x="960.82" y="304.2" width="2.5" height="209.3" fill="#000"/>
<rect x="973.54" y="330.0" width="2.5" height="183.5" fill="#000"/>
<rect x="977.78" y="325.3" width="2.5" height="188.2" fill="#000"/>
<rect x="982.03" y="335.2" width="2.5" height="178.3" fill="#000"/>
<rect x="986.27" y="352.1" width="2.5" height="161.4" fill="#000"/>
<rect x="990.51" y="306.0" width="2.5" height="207.5" fill="#000"/>
<rect x="1003.24" y="331.5" width="2.5" height="182.0" fill="#000"/>
<rect x="1007.48" y="319.8" width="2.5" height="193.7" fill="#000"/>
<rect x="1011.72" y="221.7" width="2.5" height="291.8" fill="#000"/>
<polyline points="766.43,87.00 779.16,205.60 783.40,203.50 800.37,98.50 808.85,80.74 813.10,111.00 825.82,110.00 830.06,99.02 834.31,108.10 838.55,130.00 842.79,152.80 855.52,152.80 859.76,148.97 864.00,175.80 868.24,169.50 872.48,202.53 885.21,157.50 889.45,112.80 893.69,109.39 902.18,191.70 914.90,216.50 919.15,250.40 923.39,260.20 931.87,332.60 944.60,321.28 948.84,351.30 953.08,386.00 957.32,306.70 961.57,285.70 974.29,247.20 978.53,259.00 982.78,289.70 987.02,300.00" fill="none" stroke="#0000c0" stroke-width="3" stroke-linejoin="miter" stroke-miterlimit="30" stroke-linecap="round"/>
<polyline points="766.43,127.50 779.16,251.60 783.40,251.60 800.37,148.70 808.85,130.53 813.10,161.00 825.82,161.00 830.06,152.49 834.31,160.00 838.55,184.00 842.79,207.70 855.52,207.70 859.76,202.26 864.00,222.00 868.24,218.00 872.48,249.75 885.21,206.00 889.45,157.80 893.69,153.99 902.18,237.10 914.90,259.40 919.15,302.00 931.87,383.50 944.60,370.00 953.08,441.00 957.32,351.30 974.29,293.60 978.53,308.50 982.78,338.80 987.02,348.60" fill="none" stroke="#00c000" stroke-width="3" stroke-linejoin="miter" stroke-miterlimit="30" stroke-linecap="round"/>
<polyline points="766.43,153.50 779.16,283.70 783.40,285.40 800.37,182.00 804.61,174.80 808.85,163.99 813.10,197.00 825.82,197.20 830.06,191.04 834.31,197.20 838.55,226.60 842.79,245.20 855.52,245.20 859.76,238.96 864.00,257.00 868.24,245.30 872.48,279.29 885.21,232.70 889.45,188.10 893.69,183.68 902.18,267.60 914.90,287.00 919.15,335.00 923.39,344.20 931.87,417.50 944.60,405.03 953.08,461.96 957.32,379.80 974.29,325.40 978.53,338.80 982.78,374.50 987.02,381.50" fill="none" stroke="#ff0000" stroke-width="3" stroke-linejoin="miter" stroke-miterlimit="30" stroke-linecap="round"/>
<line x1="755.5" y1="41.4" x2="755.5" y2="514.0" stroke="#888" stroke-width="1"/>
<line x1="1016.5" y1="41.4" x2="1016.5" y2="514.0" stroke="#999" stroke-width="1"/>
<line x1="755" y1="514.0" x2="1017" y2="514.0" stroke="#aaa" stroke-width="1"/>
<text x="742" y="523.2" text-anchor="end" font-size="24.5" fill="#333" textLength="13.45" lengthAdjust="spacingAndGlyphs">0</text>
<text x="742" y="454.0" text-anchor="end" font-size="24.5" fill="#333" textLength="26.90" lengthAdjust="spacingAndGlyphs">40</text>
<text x="742" y="384.8" text-anchor="end" font-size="24.5" fill="#333" textLength="26.90" lengthAdjust="spacingAndGlyphs">80</text>
<text x="742" y="315.6" text-anchor="end" font-size="24.5" fill="#333" textLength="40.35" lengthAdjust="spacingAndGlyphs">120</text>
<text x="742" y="246.4" text-anchor="end" font-size="24.5" fill="#333" textLength="40.35" lengthAdjust="spacingAndGlyphs">160</text>
<text x="742" y="177.2" text-anchor="end" font-size="24.5" fill="#333" textLength="40.35" lengthAdjust="spacingAndGlyphs">200</text>
<text x="742" y="108.0" text-anchor="end" font-size="24.5" fill="#333" textLength="40.35" lengthAdjust="spacingAndGlyphs">240</text>
<text x="1028.5" y="522.4" font-size="24.5" fill="#333" textLength="40.35" lengthAdjust="spacingAndGlyphs">219</text>
<text x="1028.5" y="474.8" font-size="24.5" fill="#333" textLength="40.35" lengthAdjust="spacingAndGlyphs">225</text>
<text x="1028.5" y="427.2" font-size="24.5" fill="#333" textLength="40.35" lengthAdjust="spacingAndGlyphs">231</text>
<text x="1028.5" y="379.6" font-size="24.5" fill="#333" textLength="40.35" lengthAdjust="spacingAndGlyphs">237</text>
<text x="1028.5" y="332.0" font-size="24.5" fill="#333" textLength="40.35" lengthAdjust="spacingAndGlyphs">243</text>
<text x="1028.5" y="284.4" font-size="24.5" fill="#333" textLength="40.35" lengthAdjust="spacingAndGlyphs">249</text>
<text x="1028.5" y="236.7" font-size="24.5" fill="#333" textLength="40.35" lengthAdjust="spacingAndGlyphs">255</text>
<text x="1028.5" y="189.1" font-size="24.5" fill="#333" textLength="40.35" lengthAdjust="spacingAndGlyphs">261</text>
<text x="1028.5" y="141.5" font-size="24.5" fill="#333" textLength="40.35" lengthAdjust="spacingAndGlyphs">267</text>
<text x="1028.5" y="93.9" font-size="24.5" fill="#333" textLength="40.35" lengthAdjust="spacingAndGlyphs">273</text>
<text transform="translate(767.45,526.8) rotate(-90)" x="0" y="0" text-anchor="end" font-size="23.5" fill="#333" textLength="98" lengthAdjust="spacingAndGlyphs">23/03/18</text>
<text transform="translate(801.39,526.8) rotate(-90)" x="0" y="0" text-anchor="end" font-size="23.5" fill="#333" textLength="98" lengthAdjust="spacingAndGlyphs">23/03/26</text>
<text transform="translate(835.32,526.8) rotate(-90)" x="0" y="0" text-anchor="end" font-size="23.5" fill="#333" textLength="98" lengthAdjust="spacingAndGlyphs">23/04/03</text>
<text transform="translate(869.26,526.8) rotate(-90)" x="0" y="0" text-anchor="end" font-size="23.5" fill="#333" textLength="98" lengthAdjust="spacingAndGlyphs">23/04/11</text>
<text transform="translate(903.19,526.8) rotate(-90)" x="0" y="0" text-anchor="end" font-size="23.5" fill="#333" textLength="98" lengthAdjust="spacingAndGlyphs">23/04/19</text>
<text transform="translate(937.13,526.8) rotate(-90)" x="0" y="0" text-anchor="end" font-size="23.5" fill="#333" textLength="98" lengthAdjust="spacingAndGlyphs">23/04/27</text>
<text transform="translate(971.07,526.8) rotate(-90)" x="0" y="0" text-anchor="end" font-size="23.5" fill="#333" textLength="98" lengthAdjust="spacingAndGlyphs">23/05/05</text>
<text transform="translate(1005.00,526.8) rotate(-90)" x="0" y="0" text-anchor="end" font-size="23.5" fill="#333" textLength="98" lengthAdjust="spacingAndGlyphs">23/05/13</text>
<text transform="translate(689.3,553) rotate(-90)" x="0" y="0" font-size="24.5" fill="#333" textLength="549.5" lengthAdjust="spacingAndGlyphs">Daily traded volume (1000 contracts of 136 tonnes)</text>
<text x="717" y="29" font-size="24.3" font-weight="bold" fill="#333" textLength="498" lengthAdjust="spacingAndGlyphs">US (SRW) wheat futures terms - 60 days</text>
<rect x="1087" y="38" width="31" height="25" fill="#000"/>
<text x="1102.5" y="55.5" text-anchor="middle" font-size="15" font-weight="bold" fill="#fff">$/t</text>
<rect x="1077.5" y="281.5" width="186" height="107" fill="#fff" stroke="#c8c8c8" stroke-width="1"/>
<rect x="1079.5" y="292.0" width="18" height="6.6" fill="#000"/>
<text x="1110" y="299.9" font-family="'Liberation Mono','DejaVu Sans Mono',monospace" font-weight="bold" font-size="19.2" fill="#000" xml:space="preserve">Daily volume</text>
<rect x="1079.5" y="318.0" width="18" height="6.6" fill="#ff0000"/>
<text x="1110" y="325.9" font-family="'Liberation Mono','DejaVu Sans Mono',monospace" font-weight="bold" font-size="19.2" fill="#ff0000" xml:space="preserve">Jul2023  236</text>
<rect x="1079.5" y="344.0" width="18" height="6.6" fill="#00c000"/>
<text x="1110" y="351.9" font-family="'Liberation Mono','DejaVu Sans Mono',monospace" font-weight="bold" font-size="19.2" fill="#00c000" xml:space="preserve">Sep2023  240</text>
<rect x="1079.5" y="370.0" width="18" height="6.6" fill="#0000c0"/>
<text x="1110" y="377.9" font-family="'Liberation Mono','DejaVu Sans Mono',monospace" font-weight="bold" font-size="19.2" fill="#0000c0" xml:space="preserve">Dec2023  246</text>
<text x="659.5" y="666.5" font-size="18.8" fill="#000">Source: CME</text>
</svg></body></html>
